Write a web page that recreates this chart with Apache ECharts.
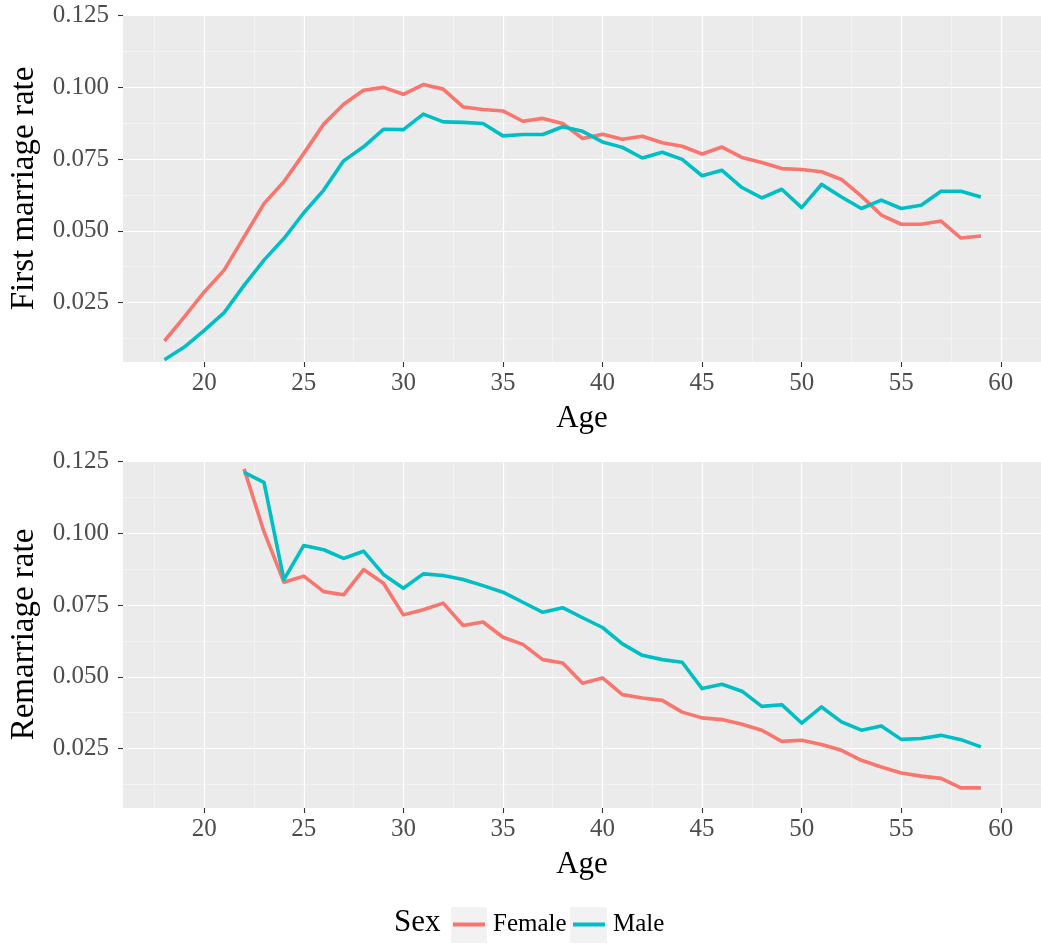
<!DOCTYPE html>
<html><head><meta charset="utf-8">
<script src="https://cdn.jsdelivr.net/npm/echarts@6/dist/echarts.min.js"></script>
<style>html,body{margin:0;padding:0;background:#fff}#c{width:1041px;height:945px}</style>
</head><body><div id="c"></div>
<script>
// ---- data ----
const ages = [18,19,20,21,22,23,24,25,26,27,28,29,30,31,32,33,34,35,36,37,38,39,40,41,42,43,44,45,46,47,48,49,50,51,52,53,54,55,56,57,58,59];
const firstFemale = [0.0116,0.0200,0.0287,0.0363,0.0479,0.0595,0.0671,0.0770,0.0872,0.0941,0.0990,0.1000,0.0976,0.1010,0.0994,0.0932,0.0923,0.0918,0.0882,0.0892,0.0874,0.0822,0.0837,0.0819,0.0830,0.0807,0.0795,0.0768,0.0792,0.0756,0.0738,0.0717,0.0714,0.0706,0.0679,0.0621,0.0555,0.0523,0.0523,0.0534,0.0475,0.0482];
const firstMale = [0.0051,0.0095,0.0153,0.0215,0.0310,0.0398,0.0473,0.0563,0.0642,0.0744,0.0793,0.0854,0.0853,0.0907,0.0880,0.0878,0.0874,0.0831,0.0836,0.0836,0.0863,0.0847,0.0810,0.0791,0.0754,0.0774,0.0749,0.0692,0.0711,0.0651,0.0615,0.0645,0.0581,0.0662,0.0618,0.0578,0.0607,0.0578,0.0589,0.0638,0.0638,0.0618];
const remarAges = [22,23,24,25,26,27,28,29,30,31,32,33,34,35,36,37,38,39,40,41,42,43,44,45,46,47,48,49,50,51,52,53,54,55,56,57,58,59];
const remarFemale = [0.1225,0.1006,0.0830,0.0851,0.0797,0.0786,0.0874,0.0826,0.0716,0.0734,0.0757,0.0679,0.0691,0.0638,0.0613,0.0560,0.0548,0.0478,0.0496,0.0438,0.0426,0.0418,0.0377,0.0357,0.0351,0.0335,0.0314,0.0275,0.0279,0.0264,0.0244,0.0209,0.0186,0.0165,0.0154,0.0146,0.0113,0.0113];
const remarMale = [0.1213,0.1178,0.0839,0.0958,0.0943,0.0913,0.0938,0.0857,0.0809,0.0859,0.0853,0.0839,0.0818,0.0795,0.0760,0.0725,0.0741,0.0706,0.0672,0.0615,0.0575,0.0560,0.0551,0.0459,0.0474,0.0450,0.0397,0.0403,0.0339,0.0395,0.0343,0.0314,0.0329,0.0282,0.0285,0.0296,0.0281,0.0256];
const xTicks = [20,25,30,35,40,45,50,55,60];
const yTicks = [0.025,0.05,0.075,0.1,0.125];
const sexLevels = ['Female','Male'];
const colors = {Female:'#F8766D', Male:'#00BFC4'};

// ---- chart ----
const FONT = 'Liberation Serif';
const X_MIN = 15.92, X_MAX = 62.02, Y_MIN = 0.00428, Y_MAX = 0.12524;

function xAx(gi){
  return {
    type:'value', gridIndex:gi, min:X_MIN, max:X_MAX, minInterval:5, maxInterval:5, splitNumber:9,
    axisLine:{show:false},
    axisTick:{show:true, length:5, customValues:xTicks, lineStyle:{color:'#333333', width:1.1}},
    axisLabel:{customValues:xTicks, color:'#4D4D4D', fontFamily:FONT, fontSize:25, margin:9},
    splitLine:{show:true, lineStyle:{color:'#FFFFFF', width:1.2}},
    minorTick:{show:false, splitNumber:2},
    minorSplitLine:{show:true, lineStyle:{color:'#F5F5F5', width:0.8}},
    name:'Age', nameLocation:'middle', nameGap:41,
    nameTextStyle:{color:'#000', fontFamily:FONT, fontSize:31}
  };
}
function yAx(gi, title){
  return {
    type:'value', gridIndex:gi, min:Y_MIN, max:Y_MAX, minInterval:0.025, maxInterval:0.025, splitNumber:5,
    axisLine:{show:false},
    axisTick:{show:true, length:5, customValues:yTicks, lineStyle:{color:'#333333', width:1.1}},
    axisLabel:{customValues:yTicks, color:'#4D4D4D', fontFamily:FONT, fontSize:25, margin:14,
      formatter:v=>Number(v).toFixed(3)},
    splitLine:{show:true, lineStyle:{color:'#FFFFFF', width:1.2}},
    minorTick:{show:false, splitNumber:2},
    minorSplitLine:{show:true, lineStyle:{color:'#F5F5F5', width:0.8}},
    name:title, nameLocation:'middle', nameGap:82, nameRotate:90,
    nameTextStyle:{color:'#000', fontFamily:FONT, fontSize:33}
  };
}
function ser(name, gi, xs, ys){
  return {
    type:'line', name:name, xAxisIndex:gi, yAxisIndex:gi,
    data: xs.map((a,i)=>[a, ys[i]]),
    symbol:'none', showSymbol:false, smooth:false, animation:false,
    color: colors[name],
    lineStyle:{color:colors[name], width:3.6, cap:'butt', join:'round'}
  };
}
function leg(name, left){
  return {
    data:[name], left:left, top:912, orient:'horizontal', padding:0, itemGap:0,
    icon:'rect', itemWidth:32, itemHeight:4, selectedMode:false,
    textStyle:{fontFamily:FONT, fontSize:25, color:'#000', padding:[0,0,0,3]}
  };
}

const chart = echarts.init(document.getElementById('c'), null, {renderer:'canvas'});
chart.setOption({
  backgroundColor:'#FFFFFF',
  animation:false,
  textStyle:{fontFamily:FONT},
  title:{text:'Sex', left:394, top:907, padding:0,
    textStyle:{fontFamily:FONT, fontSize:31, fontWeight:'normal', color:'#000'}},
  grid:[
    {left:122, right:0, top:15, height:347, show:true, backgroundColor:'#EBEBEB', borderWidth:0, containLabel:false},
    {left:122, right:0, top:461, height:347, show:true, backgroundColor:'#EBEBEB', borderWidth:0, containLabel:false}
  ],
  xAxis:[xAx(0), xAx(1)],
  yAxis:[yAx(0,'First marriage rate'), yAx(1,'Remarriage rate')],
  legend:[leg(sexLevels[0], 453), leg(sexLevels[1], 573)],
  graphic:[
    {type:'rect', left:451, top:907, shape:{width:36, height:36}, style:{fill:'#F2F2F2'}, z:-1},
    {type:'rect', left:570, top:907, shape:{width:37, height:36}, style:{fill:'#F2F2F2'}, z:-1}
  ],
  series:[
    ser('Female',0,ages,firstFemale),
    ser('Male',0,ages,firstMale),
    ser('Female',1,remarAges,remarFemale),
    ser('Male',1,remarAges,remarMale)
  ]
});
</script>
</body></html>
